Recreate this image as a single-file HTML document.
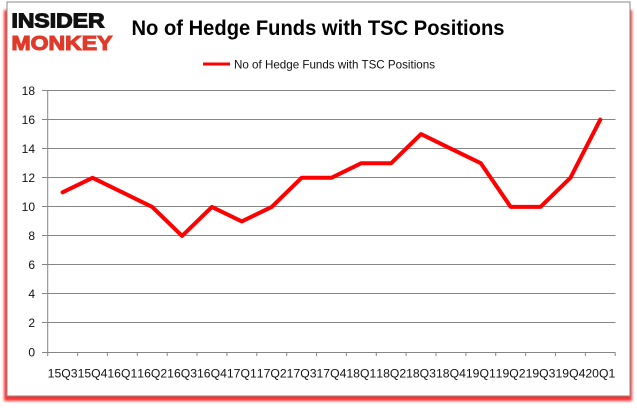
<!DOCTYPE html>
<html><head><meta charset="utf-8"><style>
html,body{margin:0;padding:0;background:#fff;}
svg{display:block;}
text{font-family:"Liberation Sans",sans-serif;}
</style></head><body>
<svg width="637" height="408" viewBox="0 0 637 408" xmlns="http://www.w3.org/2000/svg">
<defs>
<filter id="blur" x="-5%" y="-5%" width="110%" height="110%"><feGaussianBlur stdDeviation="1.4"/></filter>
</defs>
<rect x="0" y="0" width="637" height="408" fill="#fff"/>
<rect x="4" y="10" width="628" height="391" fill="#ff1010" opacity="0.85" filter="url(#blur)"/>
<rect x="7" y="2" width="623" height="394" fill="#fff" stroke="#8a8a8a" stroke-width="1"/>
<!-- logo -->
<text x="11.5" y="27.5" font-size="20" font-weight="bold" fill="#111" stroke="#111" stroke-width="1.1" textLength="93" lengthAdjust="spacingAndGlyphs">INSIDER</text>
<text x="11.5" y="50" font-size="20" font-weight="bold" fill="#e03a2a" stroke="#e03a2a" stroke-width="1.1" textLength="101" lengthAdjust="spacingAndGlyphs">MONKEY</text>
<!-- title -->
<text x="131.5" y="35" font-size="21" font-weight="bold" fill="#000" textLength="373" lengthAdjust="spacingAndGlyphs">No of Hedge Funds with TSC Positions</text>
<!-- legend -->
<line x1="203" y1="64" x2="230" y2="64" stroke="#ff0000" stroke-width="3"/>
<text x="234" y="68.5" font-size="12" fill="#111" textLength="201" lengthAdjust="spacingAndGlyphs">No of Hedge Funds with TSC Positions</text>
<!-- gridlines -->
<g stroke="#868686" stroke-width="1">
<line x1="42" y1="90.5" x2="615.5" y2="90.5"/>
<line x1="42" y1="119.5" x2="615.5" y2="119.5"/>
<line x1="42" y1="148.5" x2="615.5" y2="148.5"/>
<line x1="42" y1="177.5" x2="615.5" y2="177.5"/>
<line x1="42" y1="206.5" x2="615.5" y2="206.5"/>
<line x1="42" y1="235.5" x2="615.5" y2="235.5"/>
<line x1="42" y1="264.5" x2="615.5" y2="264.5"/>
<line x1="42" y1="293.5" x2="615.5" y2="293.5"/>
<line x1="42" y1="322.5" x2="615.5" y2="322.5"/>
<line x1="42" y1="352.5" x2="615.5" y2="352.5"/>
<line x1="47.7" y1="90.5" x2="47.7" y2="356"/>
<line x1="77.6" y1="352.5" x2="77.6" y2="356"/>
<line x1="107.4" y1="352.5" x2="107.4" y2="356"/>
<line x1="137.3" y1="352.5" x2="137.3" y2="356"/>
<line x1="167.2" y1="352.5" x2="167.2" y2="356"/>
<line x1="197.0" y1="352.5" x2="197.0" y2="356"/>
<line x1="226.9" y1="352.5" x2="226.9" y2="356"/>
<line x1="256.8" y1="352.5" x2="256.8" y2="356"/>
<line x1="286.7" y1="352.5" x2="286.7" y2="356"/>
<line x1="316.5" y1="352.5" x2="316.5" y2="356"/>
<line x1="346.4" y1="352.5" x2="346.4" y2="356"/>
<line x1="376.3" y1="352.5" x2="376.3" y2="356"/>
<line x1="406.1" y1="352.5" x2="406.1" y2="356"/>
<line x1="436.0" y1="352.5" x2="436.0" y2="356"/>
<line x1="465.9" y1="352.5" x2="465.9" y2="356"/>
<line x1="495.7" y1="352.5" x2="495.7" y2="356"/>
<line x1="525.6" y1="352.5" x2="525.6" y2="356"/>
<line x1="555.5" y1="352.5" x2="555.5" y2="356"/>
<line x1="585.4" y1="352.5" x2="585.4" y2="356"/>
<line x1="615.2" y1="352.5" x2="615.2" y2="356"/>
</g>
<!-- y labels -->
<g font-size="12" fill="#111" text-anchor="end">
<text x="35" y="95">18</text>
<text x="35" y="124">16</text>
<text x="35" y="153">14</text>
<text x="35" y="182">12</text>
<text x="35" y="211">10</text>
<text x="35" y="240">8</text>
<text x="35" y="269">6</text>
<text x="35" y="298">4</text>
<text x="35" y="327">2</text>
<text x="35" y="356.5">0</text>
</g>
<!-- x labels -->
<g font-size="12" fill="#111">
<text x="47.7" y="377.5" textLength="29.87" lengthAdjust="spacingAndGlyphs">15Q3</text>
<text x="77.6" y="377.5" textLength="29.87" lengthAdjust="spacingAndGlyphs">15Q4</text>
<text x="107.4" y="377.5" textLength="29.87" lengthAdjust="spacingAndGlyphs">16Q1</text>
<text x="137.3" y="377.5" textLength="29.87" lengthAdjust="spacingAndGlyphs">16Q2</text>
<text x="167.2" y="377.5" textLength="29.87" lengthAdjust="spacingAndGlyphs">16Q3</text>
<text x="197.0" y="377.5" textLength="29.87" lengthAdjust="spacingAndGlyphs">16Q4</text>
<text x="226.9" y="377.5" textLength="29.87" lengthAdjust="spacingAndGlyphs">17Q1</text>
<text x="256.8" y="377.5" textLength="29.87" lengthAdjust="spacingAndGlyphs">17Q2</text>
<text x="286.7" y="377.5" textLength="29.87" lengthAdjust="spacingAndGlyphs">17Q3</text>
<text x="316.5" y="377.5" textLength="29.87" lengthAdjust="spacingAndGlyphs">17Q4</text>
<text x="346.4" y="377.5" textLength="29.87" lengthAdjust="spacingAndGlyphs">18Q1</text>
<text x="376.3" y="377.5" textLength="29.87" lengthAdjust="spacingAndGlyphs">18Q2</text>
<text x="406.1" y="377.5" textLength="29.87" lengthAdjust="spacingAndGlyphs">18Q3</text>
<text x="436.0" y="377.5" textLength="29.87" lengthAdjust="spacingAndGlyphs">18Q4</text>
<text x="465.9" y="377.5" textLength="29.87" lengthAdjust="spacingAndGlyphs">19Q1</text>
<text x="495.7" y="377.5" textLength="29.87" lengthAdjust="spacingAndGlyphs">19Q2</text>
<text x="525.6" y="377.5" textLength="29.87" lengthAdjust="spacingAndGlyphs">19Q3</text>
<text x="555.5" y="377.5" textLength="29.87" lengthAdjust="spacingAndGlyphs">19Q4</text>
<text x="585.4" y="377.5" textLength="29.87" lengthAdjust="spacingAndGlyphs">20Q1</text>
</g>
<!-- series -->
<polyline fill="none" stroke="#ff0000" stroke-width="4" stroke-linejoin="round" stroke-linecap="round"
points="62.6,192.3 92.5,177.8 122.3,192.3 152.2,206.9 182.1,235.9 211.9,206.9 241.8,221.4 271.7,206.9 301.6,177.8 331.4,177.8 361.3,163.2 391.2,163.2 421.0,134.1 450.9,148.7 480.8,163.2 510.7,206.9 540.5,206.9 570.4,177.8 600.3,119.6"/>
</svg>
</body></html>
